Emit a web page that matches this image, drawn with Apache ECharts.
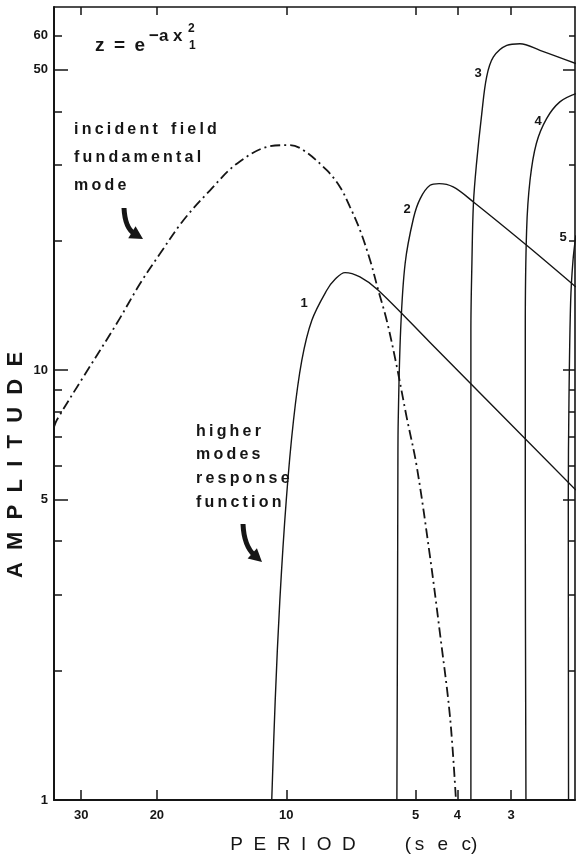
<!DOCTYPE html>
<html><head><meta charset="utf-8">
<script src="https://cdn.jsdelivr.net/npm/echarts@6/dist/echarts.min.js"></script>
<style>html,body{margin:0;padding:0;background:#fff}#c{width:576px;height:857px}</style>
</head><body><div id="c"></div>
<script>
// ---- data (period in sec, amplitude) ----
const xTickValues = [30, 20, 10, 5, 4, 3];
const yLabelValues = [1, 5, 10, 50, 60];
const yMajorTicks = [1, 5, 10, 50];
const yMinorTicks = [2, 3, 4, 6, 7, 8, 9, 20, 30, 40, 60];

const incidentField = [[34.7,7.38],[34.2,7.65],[29.65,9.65],[24.8,12.84],[21.88,15.91],[19.66,18.68],[17.35,22.33],[15.04,26.22],[13.03,30.24],[10.9,33.2],[9.8,33.4],[9.12,32.5],[8.05,29.2],[7.5,26.7],[7.11,24.0],[6.74,21.2],[6.38,18.0],[6.11,15.35],[5.84,13.07],[5.53,10.18],[5.25,7.79],[4.97,5.96],[4.63,3.68],[4.39,2.44],[4.16,1.56],[4.03,1.0]];
const mode1 = [[10.81,1.0],[10.61,1.71],[10.35,2.92],[10.0,4.99],[9.62,7.65],[9.20,10.55],[8.72,13.07],[8.05,15.35],[7.70,16.28],[7.30,16.87],[6.74,16.48],[6.11,15.35],[4.63,11.6],[2.12,5.26]];
const mode2 = [[5.53,1.0],[5.51,2.92],[5.50,6.0],[5.49,7.65],[5.42,12.39],[5.29,17.74],[5.06,22.57],[4.88,25.08],[4.63,26.93],[4.41,27.18],[4.09,26.7],[3.67,24.63],[2.76,19.53],[2.12,15.62]];
const mode3 = [[3.72,1.0],[3.72,2.92],[3.72,12.39],[3.70,17.7],[3.67,24.42],[3.61,30.24],[3.51,39.5],[3.42,48.1],[3.30,53.5],[3.07,57.0],[2.86,57.5],[2.57,55.5],[2.12,51.7]];
const mode4 = [[2.77,1.0],[2.78,4.99],[2.78,12.39],[2.76,21.2],[2.71,27.7],[2.62,33.7],[2.48,38.5],[2.31,42.1],[2.12,44.0]];
const mode5 = [[2.205,1.0],[2.208,5.0],[2.20,8.5],[2.18,14.5],[2.153,18.0],[2.12,20.6]];

const INK = '#151515';
const FONT = '"Liberation Sans", Arial, sans-serif';

const chart = echarts.init(document.getElementById('c'), null, {renderer: 'canvas'});

function yAx(pos, ticks, len, showLine, showLabel, lw) {
  return {
    type: 'log', logBase: 10, min: 1, max: 70, position: pos,
    axisLine: {show: showLine, lineStyle: {color: INK, width: lw}},
    axisTick: {show: true, inside: true, length: len, customValues: ticks, lineStyle: {color: INK, width: 1.5}},
    axisLabel: {show: showLabel, customValues: yLabelValues, margin: 6, color: INK,
      fontFamily: FONT, fontWeight: 'bold', fontSize: 13},
    splitLine: {show: false}, minorTick: {show: false}
  };
}

function xAx(pos, len, showLabel, lw) {
  return {
    type: 'log', logBase: 10, min: 2.13, max: 34.7, inverse: true, position: pos,
    axisLine: {show: true, lineStyle: {color: INK, width: lw}},
    axisTick: {show: true, inside: true, length: len, customValues: xTickValues, lineStyle: {color: INK, width: 1.5}},
    axisLabel: {show: showLabel, customValues: xTickValues, margin: 9, color: INK,
      fontFamily: FONT, fontWeight: 'bold', fontSize: 13},
    splitLine: {show: false}
  };
}

function solid(data) {
  return {type: 'line', data: data, xAxisIndex: 0, yAxisIndex: 0, symbol: 'none', smooth: 0.35,
    lineStyle: {color: INK, width: 1.4}, silent: true, z: 3};
}

function txt(t, x, y, size, weight, align, rot) {
  return {type: 'text', x: x, y: y, z: 10, rotation: rot || 0, style: {text: t, fill: INK,
    font: (weight || 'bold') + ' ' + size + 'px ' + FONT,
    align: align || 'left', verticalAlign: 'middle', textAlign: align || 'left', textVerticalAlign: 'middle'}};
}
function sp(s) { return s.split('').join('\u2009'); }

function arrow(x1, y1, cx, cy, tx, ty) {
  const dx = tx - cx, dy = ty - cy, L = Math.hypot(dx, dy);
  const ux = dx / L, uy = dy / L;
  const bx = tx - ux * 13, by = ty - uy * 13;
  const w = 7;
  return [
    {type: 'bezierCurve', z: 10, shape: {x1: x1, y1: y1, cpx1: cx, cpy1: cy, x2: bx + ux*3, y2: by + uy*3},
      style: {stroke: INK, lineWidth: 5, fill: null, lineCap: 'butt'}},
    {type: 'polygon', z: 10, shape: {points: [[tx, ty], [bx - uy*w, by + ux*w], [bx + uy*w, by - ux*w]]},
      style: {fill: INK}}
  ];
}

const graphics = [
  txt('A  M  P  L  I  T  U  D  E', 16, 465, 22, 'bold', 'center', Math.PI / 2),
  txt('P  E  R  I  O  D', 293, 845, 19, 'normal', 'center'),
  txt('(\u2009s\u2002\u2009e\u2002\u2009c)', 441, 845, 19, 'normal', 'center'),
  txt('z\u2002=\u2002e', 95, 46, 19, 'bold'),
  txt('\u2212a x', 149, 36, 17, 'bold'),
  txt('2', 188, 29, 12, 'bold'),
  txt('1', 189, 46, 12, 'bold'),
  txt(sp('incident') + '   ' + sp('field'), 74, 130, 16, '600'),
  txt(sp('fundamental'), 74, 158, 16, '600'),
  txt(sp('mode'), 74, 186, 16, '600'),
  txt(sp('higher'), 196, 432, 16, '600'),
  txt(sp('modes'), 196, 455, 16, '600'),
  txt(sp('response'), 196, 479, 16, '600'),
  txt(sp('function'), 196, 503, 16, '600'),
  txt('1', 304, 303, 13, 'bold', 'center'),
  txt('2', 407, 209, 13, 'bold', 'center'),
  txt('3', 478, 73, 13, 'bold', 'center'),
  txt('4', 538, 121, 13, 'bold', 'center'),
  txt('5', 563, 237, 13, 'bold', 'center')
].concat(arrow(124, 208, 125, 228, 143, 239))
 .concat(arrow(243, 524, 244, 546, 262, 562));

chart.setOption({
  animation: false,
  backgroundColor: '#fff',
  grid: {left: 54, right: 1, top: 7, bottom: 57, containLabel: false},
  xAxis: [xAx('bottom', 10, true, 2), xAx('top', 8, false, 1.6)],
  yAxis: [
    yAx('left', yMajorTicks, 14, true, true, 2),
    yAx('left', yMinorTicks, 8, false, false, 2),
    yAx('right', yMajorTicks, 12, true, false, 1.6),
    yAx('right', yMinorTicks, 6, false, false, 1.6)
  ],
  series: [
    {type: 'line', data: incidentField, xAxisIndex: 0, yAxisIndex: 0, symbol: 'none', smooth: 0.35, silent: true, z: 3,
      lineStyle: {color: INK, width: 1.8, type: [10, 4, 2, 4]}},
    solid(mode1), solid(mode2), solid(mode3), solid(mode4), solid(mode5)
  ],
  graphic: graphics
});
</script></body></html>
